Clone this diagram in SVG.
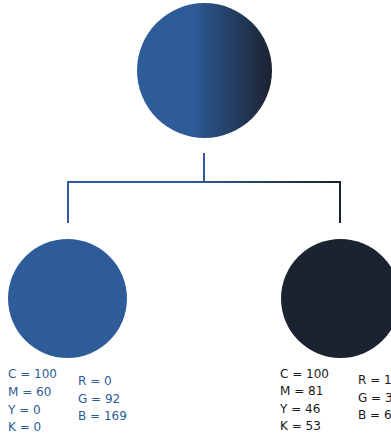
<svg xmlns="http://www.w3.org/2000/svg" width="391" height="435" viewBox="0 0 391 435">
<style>
.t{font-family:"DejaVu Sans",sans-serif;font-size:12px}
.b{fill:#2E5C99}
.k{fill:#1A1A1A}
.c{fill:none;stroke-width:2}
</style>
<defs>
<linearGradient id="gTop" gradientUnits="userSpaceOnUse" x1="137" y1="0" x2="272" y2="0">
<stop offset="0.4" stop-color="#2E5C99"/>
<stop offset="1" stop-color="#1B2230"/>
</linearGradient>
<linearGradient id="gLine" gradientUnits="userSpaceOnUse" x1="68" y1="0" x2="340" y2="0">
<stop offset="0.45" stop-color="#2E5C99"/>
<stop offset="1" stop-color="#1B2230"/>
</linearGradient>
</defs>
<rect width="391" height="435" fill="#FFFFFF"/>
<g id="connectors">
<line class="c" x1="204" y1="153" x2="204" y2="182" stroke="#2E5C99"/>
<line class="c" x1="67" y1="182" x2="341" y2="182" stroke="url(#gLine)"/>
<line class="c" x1="68" y1="181" x2="68" y2="223" stroke="#2E5C99"/>
<line class="c" x1="340" y1="181" x2="340" y2="223" stroke="#1B2230"/>
</g>
<g id="node-top">
<circle cx="204.5" cy="70.5" r="67.5" fill="url(#gTop)"/>
</g>
<g id="node-blue">
<circle cx="67.5" cy="298.5" r="59.5" fill="#2E5C99"/>
<text class="t b" x="8" y="378">C = 100</text>
<text class="t b" x="8" y="396">M = 60</text>
<text class="t b" x="8" y="413.5">Y = 0</text>
<text class="t b" x="8" y="431">K = 0</text>
<text class="t b" x="78" y="385">R = 0</text>
<text class="t b" x="78" y="402.5">G = 92</text>
<text class="t b" x="78" y="420">B = 169</text>
</g>
<g id="node-dark">
<circle cx="340.5" cy="298.5" r="59.5" fill="#1B2331"/>
<text class="t k" x="280" y="377.5">C = 100</text>
<text class="t k" x="280" y="395">M = 81</text>
<text class="t k" x="280" y="412.5">Y = 46</text>
<text class="t k" x="280" y="430">K = 53</text>
<text class="t k" x="358" y="384">R = 1</text>
<text class="t k" x="358" y="401.5">G = 3</text>
<text class="t k" x="358" y="419">B = 6</text>
</g>
</svg>
